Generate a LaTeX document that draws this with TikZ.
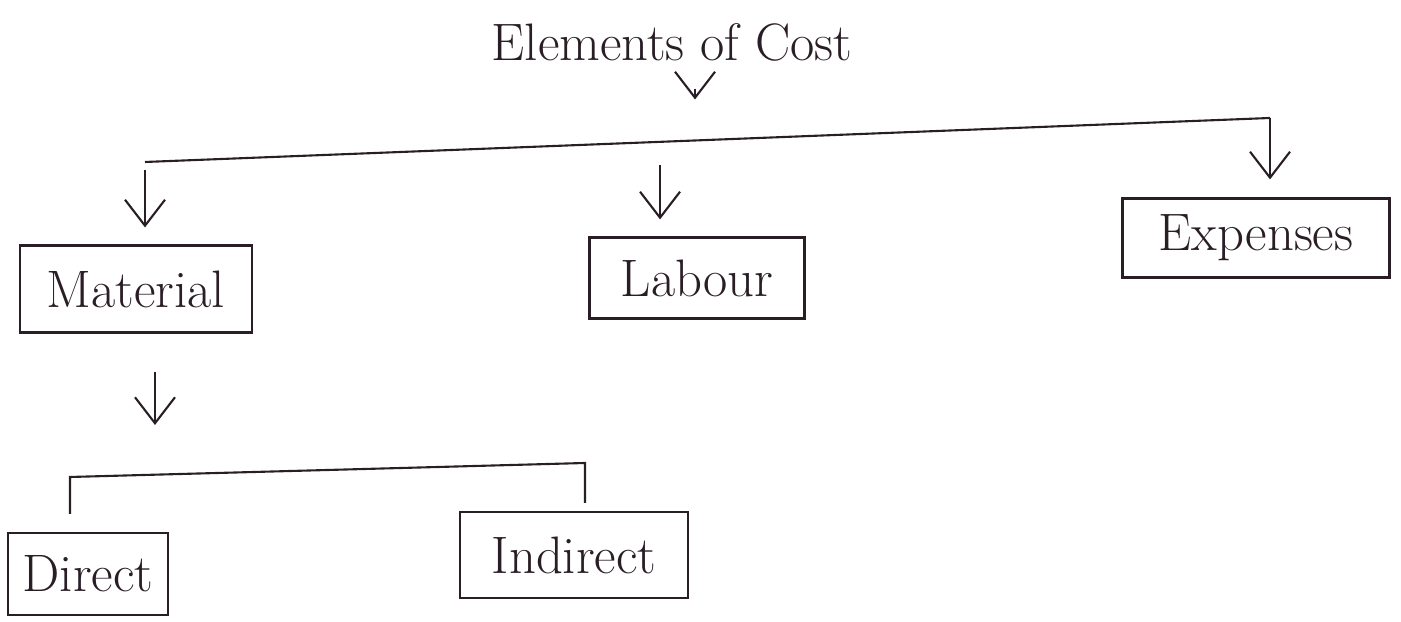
\documentclass[tikz,border=0pt]{standalone}
\usepackage{tikz}
\usetikzlibrary{arrows.meta,calc}
\definecolor{inkDark}{RGB}{42, 30, 38}

\begin{document}
\begin{tikzpicture}[
    line width=0.6pt, draw=inkDark, text=inkDark,
    costBox/.style={draw, rectangle, inner sep=2pt, font=\fontsize{15}{18}\selectfont},
    downArrow/.style={-{Straight Barb[length=2.6mm, width=4mm]}}
  ]
      \useasboundingbox (0,0) rectangle (14.01,-6.22);

      \node[font=\fontsize{15}{18}\selectfont] (title) at (6.72,-0.42) {Elements of Cost};

      \node[costBox, minimum width=2.32cm, minimum height=0.87cm] (material) at (1.36,-2.89) {Material};
      \node[costBox, minimum width=2.15cm, minimum height=0.81cm] (labour) at (6.97,-2.78) {Labour};
      \node[costBox, minimum width=2.67cm, minimum height=0.79cm] (expenses) at (12.56,-2.38) {Expenses};
      \node[costBox, minimum width=1.60cm, minimum height=0.82cm] (direct) at (0.88,-5.74) {Direct};
      \node[costBox, minimum width=2.28cm, minimum height=0.86cm] (indirect) at (5.74,-5.55) {Indirect};

      \coordinate (busL) at (1.45,-1.62);
      \coordinate (busR) at (12.7,-1.18);
      \coordinate (busMid) at ($(busL)!0.4578!(busR)$);
      \coordinate (busTop) at ($(busL)!0.4889!(busR)$);
      \coordinate (splitL) at (0.70,-4.77);
      \coordinate (splitR) at (5.85,-4.63);

      \draw[downArrow, shorten <=0.15cm, shorten >=0.41cm] (title.south -| busTop) -- (busTop);

      \draw (busL) -- (busR);
      \draw[downArrow, shorten <=0.08cm, shorten >=0.17cm] (busL) -- (busL |- material.north);
      \draw[downArrow, shorten <=0.23cm, shorten >=0.17cm] (busMid) -- (busMid |- labour.north);
      \draw[downArrow, shorten >=0.18cm] (busR) -- (busR |- expenses.north);

      \draw[downArrow, shorten <=0.38cm, shorten >=0.52cm] ([xshift=0.19cm]material.south) -- ([xshift=0.19cm]material.south |- splitL);

      \draw ([yshift=0.18cm]direct.north -| splitL) -- (splitL) -- (splitR) -- ([yshift=0.08cm]indirect.north -| splitR);
    \end{tikzpicture}
\end{document}
